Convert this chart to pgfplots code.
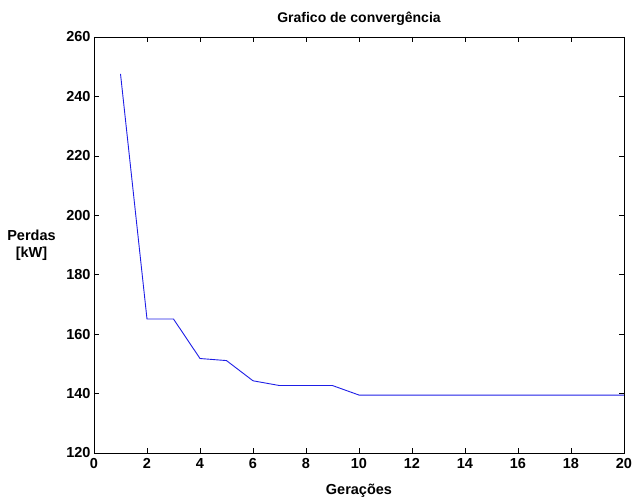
\documentclass[border=0pt]{standalone}
\usepackage{pgfplots}
\pgfplotsset{compat=1.18}
\usepackage{fontspec}
\setmainfont{Liberation Sans}
\begin{document}
\begin{tikzpicture}
\useasboundingbox (-94pt,-45pt) rectangle (539pt,453pt);
\begin{axis}[
  at={(0pt,0pt)}, anchor=south west,
  scale only axis, width=530pt, height=416pt,
  xmin=0, xmax=20, ymin=120, ymax=260,
  xtick={0,2,...,20}, ytick={120,140,...,260},
  tick align=inside, major tick length=5pt,
  tick style={black, line width=0.6pt},
  axis line style={black, line width=0.8pt},
  /pgf/number format/assume math mode=true,
  ticklabel style={font=\fontsize{14.5}{16}\selectfont\bfseries},
  xticklabel style={yshift=-2pt},
  title={Grafico de convergência},
  title style={font=\fontsize{14}{16}\selectfont\bfseries, at={(axis description cs:0.5,1)}, anchor=center, yshift=12pt},
  xlabel={Gerações},
  xlabel style={font=\fontsize{14.5}{16}\selectfont\bfseries, at={(axis description cs:0.5,-0.09)}, anchor=center},
  ylabel={Perdas\\{}[kW]},
  ylabel style={font=\fontsize{14.5}{17}\selectfont\bfseries, rotate=-90, align=center, at={(axis description cs:-0.118,0.5)}, anchor=center},
]
\addplot[color={rgb,255:red,30;green,30;blue,230}, line width=0.9pt] coordinates {
(1,247.6) (2,165.1) (3,165.1) (4,151.8) (5,151.1) (6,144.3) (7,142.7) (8,142.7) (9,142.7) (10,139.5) (11,139.5) (12,139.5) (13,139.5) (14,139.5) (15,139.5) (16,139.5) (17,139.5) (18,139.5) (19,139.5) (20,139.5)
};
\end{axis}
\end{tikzpicture}
\end{document}
